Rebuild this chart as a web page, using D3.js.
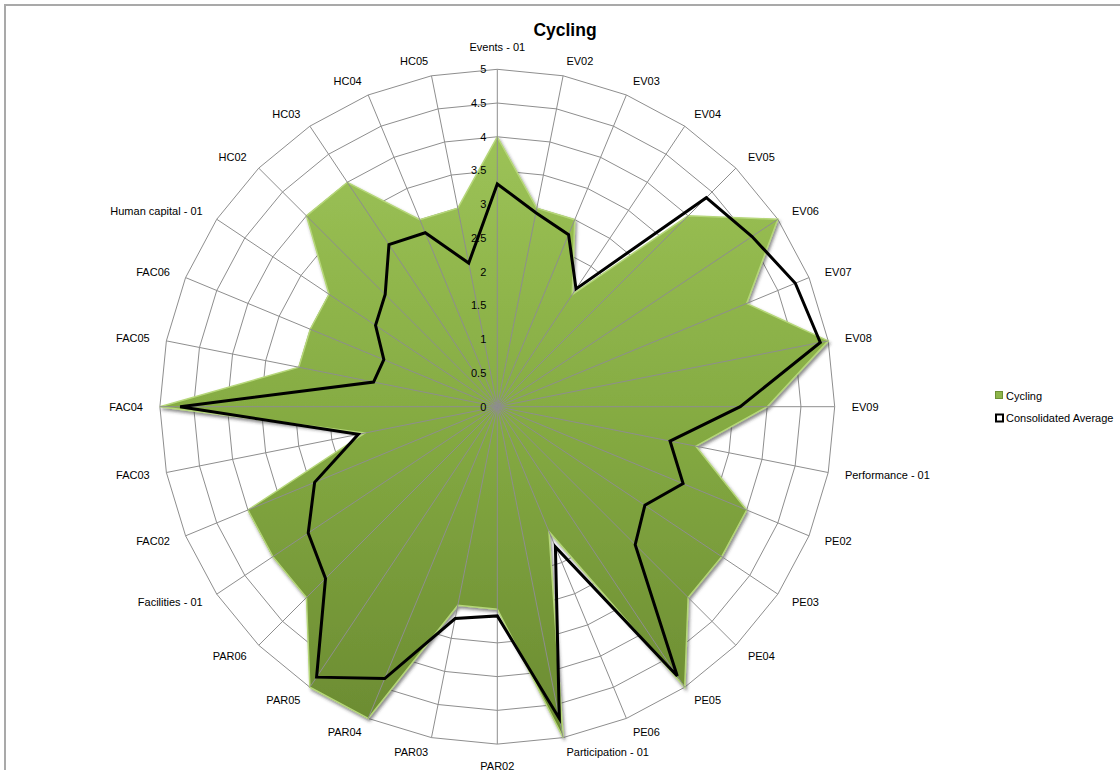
<!DOCTYPE html>
<html>
<head>
<meta charset="utf-8">
<script src="https://cdnjs.cloudflare.com/ajax/libs/d3/7.8.5/d3.min.js"></script>
<style>
  html, body { margin: 0; padding: 0; background: #fff; }
  svg { display: block; font-family: "Liberation Sans", Arial, sans-serif; }
</style>
</head>
<body>
<svg id="chart" width="1120" height="770"></svg>
<script>
// Axis categories, clockwise from the top
const categories = [
  "Events - 01", "EV02", "EV03", "EV04", "EV05", "EV06", "EV07", "EV08", "EV09",
  "Performance - 01", "PE02", "PE03", "PE04", "PE05", "PE06",
  "Participation - 01", "PAR02", "PAR03", "PAR04", "PAR05", "PAR06",
  "Facilities - 01", "FAC02", "FAC03", "FAC04", "FAC05", "FAC06",
  "Human capital - 01", "HC02", "HC03", "HC04", "HC05"
];

// Cycling scores
const cycling = [
  4, 3, 3, 2, 4, 5, 4, 5, 4,
  3, 4, 4, 4, 5, 2,
  5, 3, 3, 5, 5, 4,
  4, 4, 2, 5, 3, 3,
  3, 4, 4, 3, 3
];

// Consolidated average across all sports
const consolidated = [
  3.3, 2.93, 2.76, 2.1, 4.38, 4.54, 4.78, 4.88, 3.6,
  2.61, 2.98, 2.63, 2.89, 4.8, 2.25,
  4.71, 3.1, 3.2, 4.36, 4.82, 3.6,
  3.37, 2.93, 2.1, 4.7, 1.87, 1.82,
  2.17, 2.35, 2.89, 2.79, 2.17
];

// Radial axis tick labels
const tickValues = [0, 0.5, 1, 1.5, 2, 2.5, 3, 3.5, 4, 4.5, 5];
const tickLabels = ["0", "0.5", "1", "1.5", "2", "2.5", "3", "3.5", "4", "4.5", "5"];

const seriesNames = ["Cycling", "Consolidated Average"];
const chartTitle = "Cycling";

const svg = d3.select("#chart");
const W = 1120, H = 770;
const cx = 497.3, cy = 406.7, R = 337.4;
const n = categories.length;

const r = d3.scaleLinear().domain([0, 5]).range([0, R]);
const ang = d3.scaleLinear().domain([0, n]).range([0, 2 * Math.PI]);

const defs = svg.append("defs");
const grad = defs.append("linearGradient")
  .attr("id", "greenFill")
  .attr("gradientUnits", "userSpaceOnUse")
  .attr("x1", 0).attr("y1", -R).attr("x2", 0).attr("y2", R);
grad.append("stop").attr("offset", 0).attr("stop-color", "#a2c85c");
grad.append("stop").attr("offset", 0.5).attr("stop-color", "#86ac43");
grad.append("stop").attr("offset", 1).attr("stop-color", "#6a8a31");

const shadow = defs.append("filter").attr("id", "bevel")
  .attr("x", "-10%").attr("y", "-10%").attr("width", "120%").attr("height", "120%");
shadow.append("feDropShadow")
  .attr("dx", 1.5).attr("dy", 2.5).attr("stdDeviation", 1.8)
  .attr("flood-color", "#333").attr("flood-opacity", 0.55);

// Outer frame of the chart area
svg.append("path")
  .attr("d", `M5,${H} L5,5 L${W},5`)
  .attr("fill", "none")
  .attr("stroke", "#a9a9a9")
  .attr("stroke-width", 2);

// Title
svg.append("text")
  .attr("x", 565).attr("y", 36)
  .attr("text-anchor", "middle")
  .attr("font-size", 17.5)
  .attr("font-weight", "bold")
  .attr("fill", "#000")
  .text(chartTitle);

const g = svg.append("g").attr("transform", `translate(${cx},${cy})`);

const radial = d3.lineRadial()
  .angle((d, i) => ang(i))
  .radius(d => r(d))
  .curve(d3.curveLinearClosed);

// Polygonal gridline rings
g.append("g").selectAll("path")
  .data(tickValues.filter(v => v > 0))
  .join("path")
  .attr("d", v => radial(categories.map(() => v)))
  .attr("fill", "none")
  .attr("stroke", "#8e8e8e")
  .attr("stroke-width", 1);

// Cycling area
g.append("path")
  .datum(cycling)
  .attr("d", radial)
  .attr("fill", "url(#greenFill)")
  .attr("stroke", "#b6d77a")
  .attr("stroke-width", 1.5)
  .attr("stroke-linejoin", "miter")
  .attr("filter", "url(#bevel)");

// Spokes
g.append("g").selectAll("line")
  .data(categories)
  .join("line")
  .attr("x1", 0).attr("y1", 0)
  .attr("x2", (d, i) => r(5) * Math.sin(ang(i)))
  .attr("y2", (d, i) => -r(5) * Math.cos(ang(i)))
  .attr("stroke", "#8e8e8e")
  .attr("stroke-width", 1);

// Consolidated average outline
g.append("path")
  .datum(consolidated)
  .attr("d", radial)
  .attr("fill", "none")
  .attr("stroke", "#000")
  .attr("stroke-width", 3)
  .attr("stroke-linejoin", "miter");

// Radial tick labels along the top spoke
g.append("g").selectAll("text")
  .data(tickValues)
  .join("text")
  .attr("x", -11)
  .attr("y", v => -r(v))
  .attr("dy", "0.35em")
  .attr("text-anchor", "end")
  .attr("font-size", 11)
  .attr("fill", "#000")
  .text((v, i) => tickLabels[i]);

// Category labels around the outside
g.append("g").selectAll("text")
  .data(categories)
  .join("text")
  .each(function (d, i) {
    const a = ang(i);
    const s = Math.sin(a), c = Math.cos(a);
    const vx = r(5) * s, vy = -r(5) * c;
    const t = d3.select(this);
    if (Math.abs(s) < 0.01) {
      t.attr("x", vx).attr("y", vy - c * 22).attr("text-anchor", "middle");
    } else {
      t.attr("x", vx + s * 17).attr("y", vy - c * 15)
        .attr("text-anchor", s > 0 ? "start" : "end");
    }
  })
  .attr("dy", "0.35em")
  .attr("font-size", 11)
  .attr("fill", "#000")
  .text(d => d);

// Legend
const legend = svg.append("g");
legend.append("rect")
  .attr("x", 995.5).attr("y", 391.5).attr("width", 7).attr("height", 7)
  .attr("fill", "#8db54a").attr("stroke", "#6d8f35").attr("stroke-width", 1);
legend.append("text")
  .attr("x", 1006).attr("y", 396).attr("dy", "0.35em")
  .attr("font-size", 11).text(seriesNames[0]);
legend.append("rect")
  .attr("x", 996).attr("y", 414.5).attr("width", 7).attr("height", 7)
  .attr("fill", "#fff").attr("stroke", "#000").attr("stroke-width", 2);
legend.append("text")
  .attr("x", 1006).attr("y", 418).attr("dy", "0.35em")
  .attr("font-size", 11).text(seriesNames[1]);
</script>
</body>
</html>
